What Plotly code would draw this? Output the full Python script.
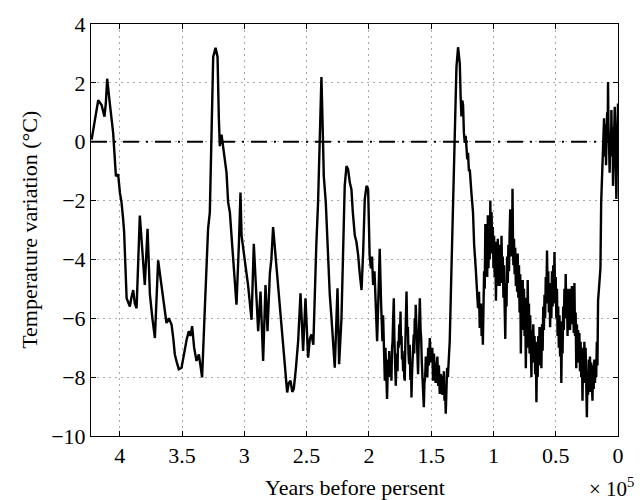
import plotly.graph_objects as go

# (age in thousands of years before present, temperature variation in deg C)
cycle_a = [
    (422.6, 0.07), (417.3, 1.41), (414.6, 1.25), (412.3, 0.85), (411.2, 1.30),
    (410.1, 2.14), (408.0, 1.30), (405.3, 0.29), (403.1, -1.17), (401.3, -1.11),
    (399.9, -1.73), (398.6, -2.06), (397.3, -2.63), (396.5, -3.07), (394.5, -5.32),
    (393.5, -5.45), (391.9, -5.60), (390.7, -5.30), (389.2, -5.04), (387.9, -5.50),
    (386.5, -5.66), (383.9, -2.51), (381.9, -3.80), (379.9, -4.87), (377.7, -2.96),
    (375.8, -5.20), (373.8, -6.00), (371.8, -6.67), (369.2, -4.03), (366.5, -4.87),
    (363.8, -5.77), (362.5, -6.16), (360.6, -6.00), (358.4, -6.22), (357.0, -6.70),
    (355.8, -7.23), (354.2, -7.50), (352.6, -7.73), (350.4, -7.68), (349.0, -7.30),
    (347.8, -7.00), (346.2, -6.70), (344.6, -6.44), (343.3, -6.60), (341.9, -6.27),
    (340.3, -7.00), (338.4, -7.45), (336.5, -7.23), (334.9, -7.70), (333.9, -8.01),
]
cycle_b = [
    (331.7, -5.66), (329.1, -2.96), (327.7, -2.40), (325.0, 2.88), (323.1, 3.19),
    (321.5, 2.88), (320.5, 0.86), (319.7, -0.15), (318.3, 0.24), (317.0, -0.21),
    (314.3, -1.05), (313.0, -2.06), (311.6, -2.40), (309.6, -3.60), (307.6, -4.65),
    (306.3, -5.54), (304.4, -3.52), (303.1, -1.73), (302.2, -3.19), (300.2, -3.75),
    (298.8, -4.30), (297.0, -4.87), (294.2, -6.05), (292.4, -3.47), (290.2, -5.43),
    (288.9, -6.44), (287.0, -5.09), (284.9, -7.45), (283.0, -4.87), (281.4, -6.44),
    (279.5, -4.48), (278.3, -4.00), (276.9, -2.90), (275.5, -3.60), (274.2, -3.97),
    (271.5, -5.32), (268.9, -6.78), (267.1, -7.80), (265.6, -8.52), (264.3, -8.20),
    (262.9, -8.12), (261.5, -8.50), (260.3, -8.40), (258.6, -7.70), (256.8, -6.78),
    (254.9, -5.15), (252.8, -7.11), (250.9, -5.32), (248.8, -7.34), (247.4, -6.70),
    (246.1, -6.55), (244.6, -6.90), (243.4, -4.98), (242.2, -3.50),
]
cycle_c = [
    (240.8, -2.06), (239.4, -0.04), (238.1, 2.20), (236.8, -0.04), (236.2, -1.17),
    (234.6, -2.06), (232.7, -4.31), (231.4, -5.20), (230.0, -6.00), (228.6, -7.00),
    (227.4, -7.68), (225.2, -4.98), (223.9, -7.56), (222.0, -6.00), (220.7, -3.19),
    (219.4, -1.50), (218.0, -0.83), (216.7, -0.94), (215.3, -1.39), (214.0, -1.62),
    (212.9, -2.40), (211.3, -3.19), (210.0, -3.40), (208.6, -3.86), (207.3, -4.50),
    (205.9, -5.04), (204.6, -3.75), (203.3, -1.95), (201.9, -1.50), (200.6, -1.62),
    (199.4, -3.86), (198.4, -4.30), (197.5, -3.90), (196.6, -4.87), (195.5, -4.40),
    (194.5, -5.88), (193.4, -6.78), (192.3, -5.20), (191.3, -3.64), (190.2, -5.50),
    (189.6, -6.30), (189.1, -6.78), (188.6, -5.90), (188.2, -6.60), (187.7, -7.20),
    (187.2, -8.12), (186.7, -7.00), (186.3, -7.60), (185.8, -8.30), (185.4, -8.74),
    (184.9, -7.80), (184.5, -7.40), (184.0, -8.00), (183.7, -7.11), (183.2, -7.60),
    (182.8, -7.90), (182.3, -7.30), (181.9, -8.12), (181.4, -7.00), (181.0, -6.80),
    (180.5, -6.00), (180.0, -5.32), (179.6, -6.60), (179.2, -7.00), (178.8, -7.60),
    (178.4, -8.29), (177.9, -7.40), (177.5, -7.20), (177.0, -7.80), (176.6, -6.78),
    (176.1, -7.00), (175.6, -6.20), (175.1, -6.80), (174.6, -5.77), (174.2, -6.90),
    (173.8, -6.60), (173.4, -7.40), (173.0, -7.11), (172.5, -7.80), (172.1, -7.30),
    (171.6, -8.00), (171.2, -8.12), (170.8, -7.00), (170.5, -6.50), (170.1, -5.60),
    (169.8, -5.09), (169.2, -6.50), (168.7, -6.30), (168.2, -7.20), (167.7, -7.56),
    (167.2, -6.90), (166.7, -8.10), (166.2, -7.60), (165.8, -8.69), (165.3, -7.80),
    (164.9, -7.40), (164.4, -7.00), (164.0, -6.55), (163.6, -7.20), (163.2, -6.00),
    (162.8, -6.60), (162.4, -5.54), (161.9, -6.40), (161.4, -6.80), (161.0, -7.40),
    (160.5, -7.90), (160.1, -7.00), (159.8, -6.60), (159.4, -6.00), (159.1, -5.32),
    (158.5, -6.40), (158.0, -6.70), (157.5, -7.50), (157.0, -7.90), (156.7, -8.30),
    (156.4, -8.50), (155.9, -9.02), (155.4, -8.20), (154.8, -8.00), (154.3, -7.30),
    (153.8, -7.45), (153.1, -8.00), (152.4, -7.00), (151.8, -7.60), (151.1, -6.67),
    (150.5, -7.20), (149.8, -7.50), (149.1, -7.00), (148.5, -8.12), (147.8, -7.20),
    (147.0, -7.60), (146.4, -8.20), (145.7, -7.79), (145.0, -7.30), (144.4, -8.30),
    (143.8, -7.60), (143.1, -8.57), (142.5, -7.90), (141.8, -8.00), (141.1, -8.60),
    (140.4, -8.35), (139.8, -7.80), (139.3, -8.80), (138.8, -8.30), (138.3, -9.24),
    (137.7, -8.40), (137.2, -7.68), (136.6, -8.00), (136.1, -7.40), (135.6, -7.10),
    (135.1, -6.78),
]
cycle_d = [
    (133.7, -4.31), (132.4, -2.29), (131.1, -0.04), (129.7, 2.54), (128.4, 3.21),
    (127.0, 2.65), (126.4, 1.60), (125.7, 0.86), (125.0, 1.40), (124.4, 1.25),
    (123.7, 0.30), (123.0, -0.04), (122.3, 0.20), (121.7, -0.20), (121.0, -0.60),
    (120.4, -0.38), (119.7, -1.00), (119.0, -0.94), (118.3, -1.60), (117.7, -1.73),
    (116.4, -2.40), (115.5, -3.50), (114.2, -4.31), (113.3, -5.20), (112.4, -5.66),
    (111.6, -5.10), (111.0, -6.33), (110.5, -5.80), (110.0, -5.50), (109.5, -6.60),
    (109.0, -5.80), (108.5, -6.90), (108.0, -5.60), (107.5, -4.40), (107.0, -5.00),
    (106.5, -2.80), (106.0, -4.20), (105.5, -3.00), (105.0, -4.60), (104.5, -2.50),
    (104.0, -4.30), (103.5, -2.90), (103.0, -4.00), (102.5, -2.00), (102.0, -3.60),
    (101.5, -2.40), (101.0, -3.80), (100.5, -2.90), (100.0, -4.30), (99.5, -3.20),
    (99.0, -4.60), (98.5, -3.40), (98.0, -5.40), (97.5, -3.80), (97.0, -4.90),
    (96.5, -3.30), (96.0, -4.70), (95.5, -3.60), (95.0, -4.90), (94.5, -3.50),
    (94.0, -4.60), (93.5, -3.20), (93.0, -4.80), (92.5, -3.90), (92.0, -5.30),
    (91.5, -4.20), (91.0, -5.60), (90.5, -6.70), (90.0, -4.80), (89.5, -5.60),
    (89.0, -3.90), (88.5, -4.80), (88.0, -3.50), (87.5, -4.40), (87.0, -3.10),
    (86.5, -2.30), (86.0, -3.90), (85.5, -2.80), (85.0, -3.60), (84.7, -1.60),
    (84.3, -3.40), (84.0, -4.20), (83.5, -3.30), (83.0, -4.50), (82.5, -3.60),
    (82.0, -4.90), (81.5, -3.90), (81.0, -5.10), (80.5, -3.80), (80.0, -5.30),
    (79.5, -4.20), (79.0, -5.80), (78.5, -4.50), (78.0, -7.20), (77.5, -5.00),
    (77.0, -6.40), (76.5, -4.70), (76.0, -6.10), (75.5, -5.00), (75.0, -6.60),
    (74.5, -5.30), (74.0, -7.70), (73.5, -5.60), (73.0, -7.00), (72.5, -4.70),
    (72.0, -6.40), (71.5, -5.50), (71.0, -7.20), (70.5, -5.90), (70.0, -7.40),
    (69.5, -8.00), (69.0, -6.40), (68.5, -7.50), (68.0, -6.20), (67.5, -7.30),
    (67.0, -6.60), (66.5, -7.90), (66.0, -6.80), (65.5, -8.85), (65.0, -7.00),
    (64.5, -8.00), (64.0, -6.60), (63.5, -7.60), (63.0, -6.30), (62.5, -7.40),
    (62.0, -6.50), (61.5, -7.70), (61.0, -6.20), (60.5, -7.10), (60.0, -5.60),
    (59.5, -6.40), (59.0, -5.20), (58.5, -6.00), (58.0, -4.60), (57.5, -5.50),
    (57.0, -3.70), (56.5, -5.20), (56.0, -4.40), (55.5, -5.80), (55.0, -4.80),
    (54.5, -6.30), (54.0, -5.00), (53.5, -6.00), (53.0, -4.40), (52.5, -5.60),
    (52.0, -4.20), (51.5, -5.30), (51.0, -3.75), (50.5, -5.50), (50.0, -4.60),
    (49.5, -6.00), (49.0, -5.00), (48.5, -6.60), (48.0, -5.60), (47.5, -7.00),
    (47.0, -5.90), (46.5, -7.30), (46.0, -6.10), (45.5, -8.20), (45.0, -6.50),
    (44.5, -7.20), (44.0, -5.60), (43.5, -6.40), (43.0, -5.00), (42.5, -6.00),
    (42.0, -4.50), (41.5, -5.80), (41.0, -5.00), (40.5, -6.60), (40.0, -5.40),
    (39.5, -6.20), (39.0, -5.00), (38.5, -6.40), (38.0, -5.30), (37.5, -6.00),
    (37.0, -4.90), (36.5, -6.20), (36.0, -5.20), (35.5, -6.50), (35.0, -4.80),
    (34.5, -6.60), (34.0, -5.80), (33.5, -7.70), (33.0, -6.20), (32.5, -7.30),
    (32.0, -6.40), (31.5, -7.50), (31.0, -6.50), (30.5, -7.80), (30.0, -6.80),
    (29.5, -8.00), (29.0, -7.00), (28.5, -8.80), (28.0, -7.20), (27.5, -8.20),
    (27.0, -6.80), (26.5, -8.00), (26.0, -7.00), (25.5, -8.60), (25.0, -9.36),
    (24.5, -7.80), (24.0, -8.60), (23.5, -7.40), (23.0, -8.40), (22.5, -7.30),
    (22.0, -8.50), (21.5, -7.50), (21.0, -8.30), (20.5, -8.80), (20.0, -7.60),
    (19.5, -8.40), (19.0, -7.40), (18.5, -8.20), (18.0, -7.40), (17.5, -8.00),
    (17.0, -6.80), (16.5, -7.60), (16.0, -5.40), (15.0, -4.90), (14.1, -4.31),
]
holocene = [
    (13.5, -2.06), (12.7, -1.20), (12.3, -0.60), (12.0, -0.27), (11.6, 0.30),
    (11.2, 0.80), (10.9, -0.30), (10.6, -0.50), (10.2, 0.60), (9.9, 0.20),
    (9.6, -0.80), (9.3, -0.04), (9.0, 0.70), (8.7, 1.00), (8.3, 0.20),
    (8.0, 2.03), (7.7, 0.60), (7.3, 0.10), (7.0, -0.60), (6.7, -1.05),
    (6.3, 0.20), (6.0, 0.30), (5.6, -0.50), (5.3, 1.08), (5.0, 0.20),
    (4.7, -0.40), (4.3, 0.50), (4.0, -1.50), (3.6, -0.20), (3.3, 0.30),
    (3.0, 1.00), (2.6, 1.19), (2.2, 0.40), (1.9, -0.20), (1.6, -1.00),
    (1.3, -1.95), (0.9, -0.60), (0.6, 0.20), (0.3, 0.90), (0.0, 1.30),
]

xtick_vals = [400000, 350000, 300000, 250000, 200000, 150000, 100000, 50000, 0]
xtick_text = ["4", "3.5", "3", "2.5", "2", "1.5", "1", "0.5", "0"]
ytick_vals = [-10, -8, -6, -4, -2, 0, 2, 4]
x_range = [423100, 0]
y_range = [-10, 4]
ref_level = 0

records = cycle_a + cycle_b + cycle_c + cycle_d + holocene
years = [a * 1000 for a, _ in records]
temps = [t for _, t in records]

FONT = "Liberation Serif, Times New Roman, serif"

fig = go.Figure()
fig.add_trace(go.Scatter(
    x=years, y=temps, mode="lines",
    line=dict(color="black", width=2.4),
    hoverinfo="skip", showlegend=False,
))
fig.add_trace(go.Scatter(
    x=x_range, y=[ref_level, ref_level], mode="lines",
    line=dict(color="black", width=2, dash="16px,7px,2px,7px"),
    hoverinfo="skip", showlegend=False,
))

axis_common = dict(
    showline=True, linecolor="black", linewidth=1, mirror="ticks",
    ticks="inside", ticklen=5, tickcolor="black", tickwidth=1,
    showgrid=True, gridcolor="#a8a8a8", gridwidth=1, griddash="2px,4px",
    zeroline=False,
    tickfont=dict(family=FONT, size=22, color="black"),
)

fig.update_xaxes(range=x_range, tickmode="array", tickvals=xtick_vals,
                 ticktext=xtick_text, **axis_common)
fig.update_yaxes(range=y_range, tickmode="array", tickvals=ytick_vals,
                 **axis_common)

fig.update_layout(
    width=643, height=500,
    margin=dict(l=91, r=25, t=20, b=64),
    plot_bgcolor="white", paper_bgcolor="white",
    font=dict(family=FONT, size=22, color="black"),
    annotations=[
        dict(text="Temperature variation (°C)", textangle=-90,
             xref="paper", yref="paper", x=-0.118, y=0.5,
             xanchor="center", yanchor="middle", showarrow=False,
             font=dict(family=FONT, size=22, color="black")),
        dict(text="Years before persent",
             xref="paper", yref="paper", x=0.5, y=-0.125,
             xanchor="center", yanchor="middle", showarrow=False,
             font=dict(family=FONT, size=22, color="black")),
        dict(text="× 10<sup>5</sup>",
             xref="paper", yref="paper", x=1.034, y=-0.125,
             xanchor="right", yanchor="middle", showarrow=False,
             font=dict(family=FONT, size=21, color="black")),
    ],
)

fig.write_html("out.html", config={"displayModeBar": False},
               post_script="document.body.style.margin='0px';")
